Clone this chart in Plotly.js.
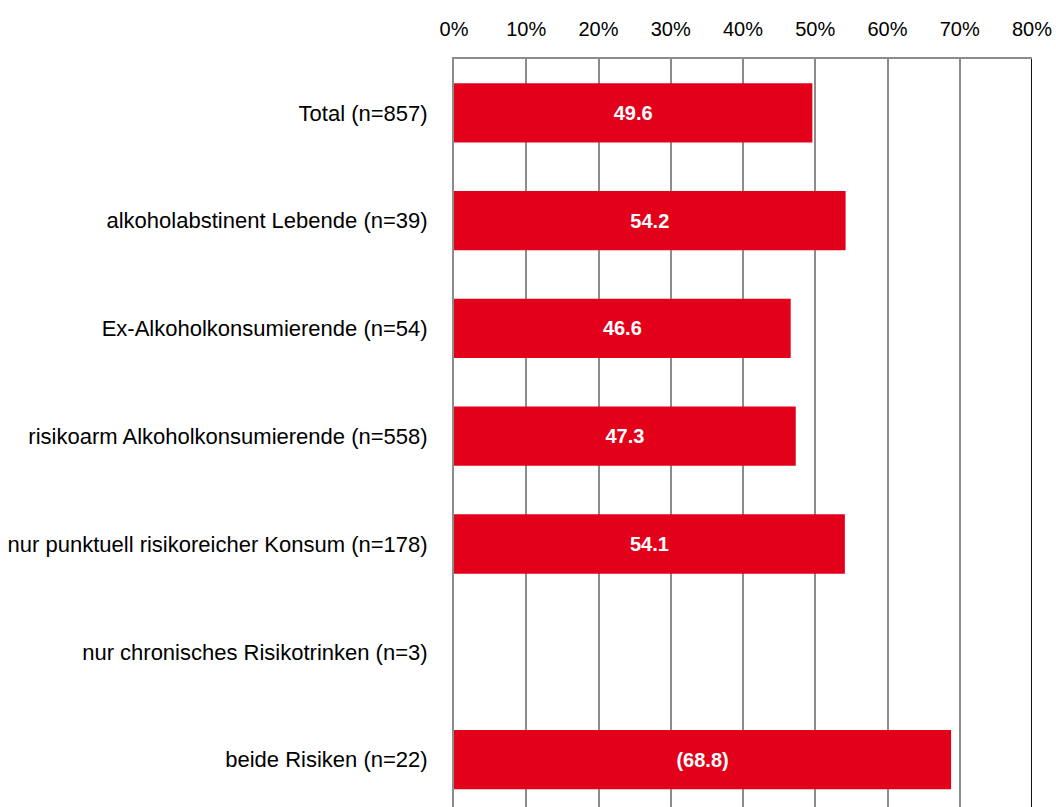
<!DOCTYPE html>
<html>
<head>
<meta charset="utf-8">
<script src="https://cdn.plot.ly/plotly-3.0.1.min.js"></script>
<style>html,body{margin:0;padding:0;background:#fff;}#chart{width:1056px;height:807px;}</style>
</head>
<body>
<div id="chart"></div>
<script>
const categories = [
  "Total (n=857)",
  "alkoholabstinent Lebende (n=39)",
  "Ex-Alkoholkonsumierende (n=54)",
  "risikoarm Alkoholkonsumierende (n=558)",
  "nur punktuell risikoreicher Konsum (n=178)",
  "nur chronisches Risikotrinken (n=3)",
  "beide Risiken (n=22)"
];
const values = [49.6, 54.2, 46.6, 47.3, 54.1, null, 68.8];
const labels = ["49.6", "54.2", "46.6", "47.3", "54.1", "", "(68.8)"];
const tickValues = [0, 10, 20, 30, 40, 50, 60, 70, 80];
const tickLabels = ["0%", "10%", "20%", "30%", "40%", "50%", "60%", "70%", "80%"];

const FONT = '"Liberation Sans Narrow", "Arial Narrow", "Liberation Sans", Arial, sans-serif';

const trace = {
  type: 'bar',
  orientation: 'h',
  x: values,
  y: categories,
  text: labels,
  texttemplate: '%{text}',
  textposition: 'inside',
  insidetextanchor: 'middle',
  textangle: 0,
  constraintext: 'none',
  textfont: {family: FONT, size: 20, color: '#ffffff', weight: 'bold'},
  marker: {color: '#E2001A', line: {width: 0}},
  hoverinfo: 'none',
  cliponaxis: false
};

const layout = {
  width: 1056,
  height: 807,
  margin: {l: 454, r: 24, t: 59, b: 0, pad: 0},
  paper_bgcolor: '#ffffff',
  plot_bgcolor: '#ffffff',
  showlegend: false,
  bargap: 0.45,
  font: {family: FONT, size: 20, color: '#000000'},
  xaxis: {
    side: 'top',
    range: [0, 80],
    tickvals: tickValues,
    ticktext: tickLabels,
    showgrid: true,
    gridcolor: '#8c8c8c',
    gridwidth: 2,
    zeroline: false,
    showline: true,
    linecolor: '#8c8c8c',
    linewidth: 2,
    ticks: '',
    ticklabelstandoff: 13,
    tickfont: {family: FONT, size: 20, color: '#000000'},
    fixedrange: true
  },
  yaxis: {
    type: 'category',
    range: [6.44, -0.5],
    showgrid: false,
    zeroline: false,
    showline: true,
    linecolor: '#8c8c8c',
    linewidth: 2,
    ticks: '',
    ticklabelstandoff: 20,
    tickfont: {family: FONT, size: 22, color: '#000000'},
    fixedrange: true
  },
  shapes: [{
    type: 'line', xref: 'x', yref: 'paper',
    x0: 80, x1: 80, y0: 0, y1: 1,
    line: {color: '#111111', width: 2}
  }]
};

Plotly.newPlot('chart', [trace], layout, {displayModeBar: false, staticPlot: true});
</script>
</body>
</html>
